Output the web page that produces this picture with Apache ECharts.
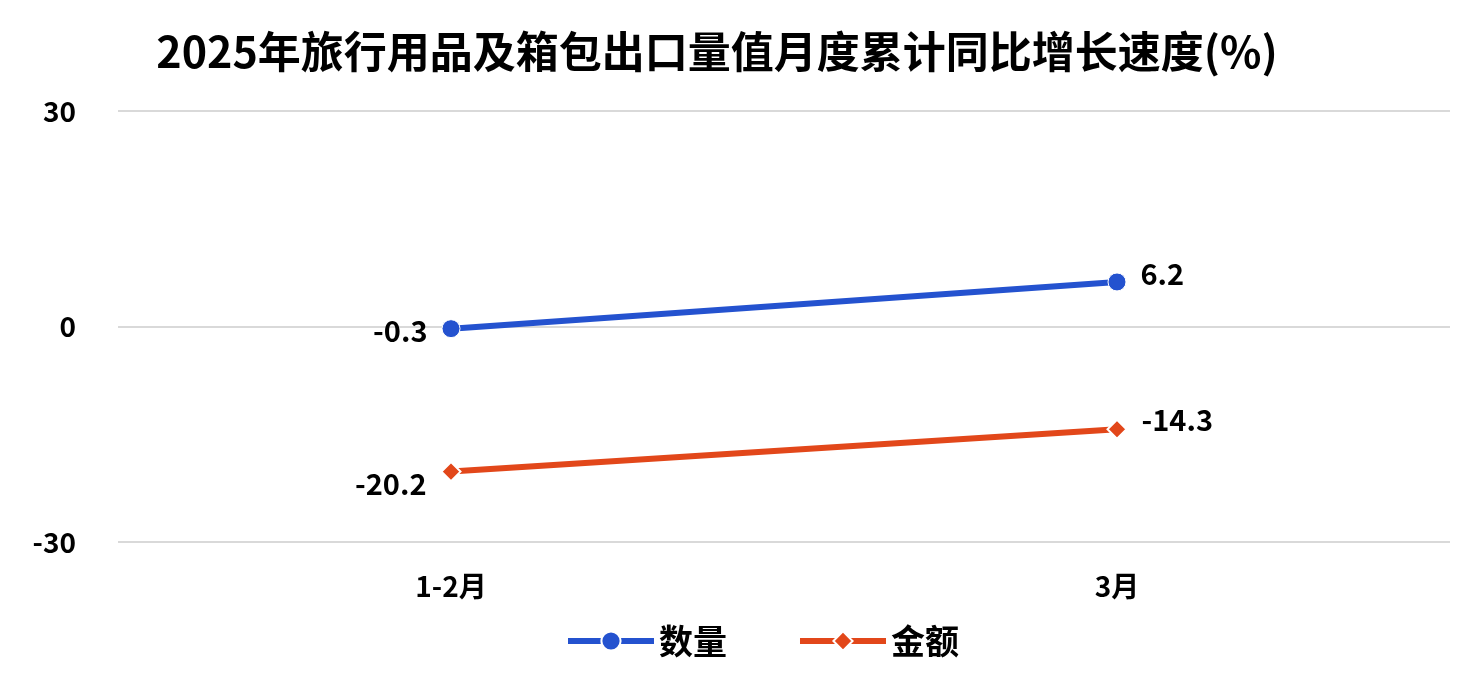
<!DOCTYPE html>
<html><head><meta charset="utf-8">
<script src="https://cdn.jsdelivr.net/npm/echarts@6/dist/echarts.min.js"></script>
<style>html,body{margin:0;padding:0;background:#fff}#c{width:1479px;height:677px}</style>
</head><body><div id="c"></div>
<script>
const categories = ['1-2月', '3月'];
const quantity = [-0.3, 6.2];
const amount = [-20.2, -14.3];
const yTicks = [-30, 0, 30];
const seriesNames = ['数量', '金额'];
const titleText = '2025年旅行用品及箱包出口量值月度累计同比增长速度(%)';

const FONT = '"Noto Sans CJK SC", "Noto Sans", sans-serif';
const chart = echarts.init(document.getElementById('c'), null, {renderer: 'canvas'});
const labelStyle = {fontFamily: FONT, fontWeight: 'bold', fontSize: 29, color: '#000'};
chart.setOption({
  animation: false,
  backgroundColor: '#fff',
  title: {
    text: titleText, left: 712, textAlign: 'center', top: 25,
    textStyle: {fontFamily: FONT, fontWeight: 'bold', fontSize: 43, color: '#000'}
  },
  grid: {left: 118, right: 29, top: 111, bottom: 135, containLabel: false},
  legend: {
    top: 624, left: 565, padding: 0, itemWidth: 86, itemHeight: 24, itemGap: 70,
    lineStyle: {width: 6},
    itemStyle: {borderColor: '#fff', borderWidth: 2},
    textStyle: {fontFamily: FONT, fontWeight: 'bold', fontSize: 34, color: '#000'},
    data: seriesNames
  },
  xAxis: {
    type: 'category', data: categories, boundaryGap: true,
    axisLine: {show: false}, axisTick: {show: false},
    axisLabel: {fontFamily: FONT, fontWeight: 'bold', fontSize: 28, color: '#000', margin: 30}
  },
  yAxis: {
    type: 'value', min: yTicks[0], max: yTicks[yTicks.length - 1], interval: 30,
    axisLine: {show: false}, axisTick: {show: false},
    axisLabel: {fontFamily: FONT, fontWeight: 'bold', fontSize: 28, color: '#000', margin: 42},
    splitLine: {lineStyle: {color: '#d9d9d9', width: 2}}
  },
  series: [
    {
      name: seriesNames[0], type: 'line', symbol: 'circle', symbolSize: 18,
      lineStyle: {color: '#2452CF', width: 6},
      itemStyle: {color: '#2452CF', borderColor: '#fff', borderWidth: 1},
      label: Object.assign({show: true, distance: 14}, labelStyle),
      data: [
        {value: quantity[0], label: {position: 'left', offset: [0, 2]}},
        {value: quantity[1], label: {position: 'right', offset: [0, -8]}}
      ]
    },
    {
      name: seriesNames[1], type: 'line', symbol: 'diamond', symbolSize: 19,
      lineStyle: {color: '#E2471A', width: 6},
      itemStyle: {color: '#E2471A', borderColor: '#fff', borderWidth: 2},
      label: Object.assign({show: true, distance: 14}, labelStyle),
      data: [
        {value: amount[0], label: {position: 'left', offset: [0, 12]}},
        {value: amount[1], label: {position: 'right', offset: [0, -9]}}
      ]
    }
  ]
});
</script></body></html>
